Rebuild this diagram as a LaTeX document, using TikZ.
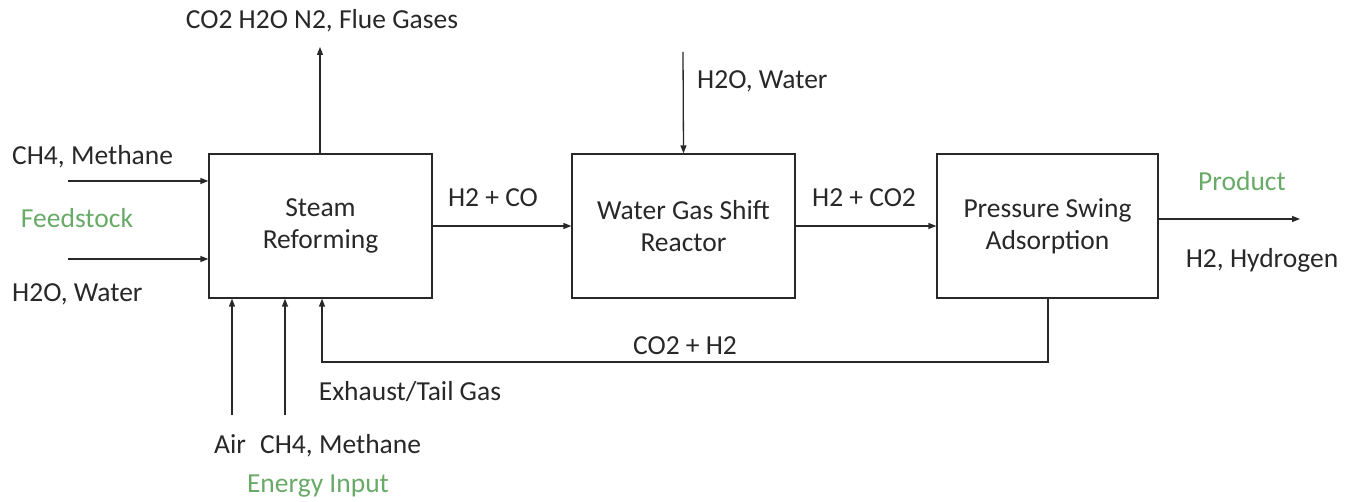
\documentclass[tikz,border=0pt]{standalone}
\usepackage{fontspec}
\setmainfont{Carlito}
\usetikzlibrary{arrows.meta}
\definecolor{gtext}{RGB}{104,170,104}
\definecolor{ink}{RGB}{40,40,40}
\begin{document}
\begin{tikzpicture}[x=1pt,y=-1pt,
  box/.style={draw=ink,line width=1.3pt,minimum width=223pt,minimum height=144pt,align=center,font=\fontsize{27.5}{32}\selectfont,text=ink,inner sep=0pt},
  lbl/.style={font=\fontsize{27.5}{32}\selectfont,text=ink,inner sep=0pt},
  glbl/.style={font=\fontsize{27.5}{32}\selectfont,text=gtext,inner sep=0pt},
  flow/.style={draw=ink,line width=1.3pt,-{Triangle[length=8pt,width=6pt]}}]
\useasboundingbox (0,0) rectangle (1356,502);
\node[box] (sr) at (320.5,226) {Steam\\Reforming};
\node[box] (wgs) at (683.5,226) {Water Gas Shift\\Reactor};
\node[box,minimum width=221pt] (psa) at (1047.5,226) {Pressure Swing\\Adsorption};
% inputs left
\coordinate (ch4s) at (68,181);
\coordinate (h2os) at (68,259);
\draw[flow] (ch4s) -- (ch4s -| sr.west);
\draw[flow] (h2os) -- (h2os -| sr.west);
\node[lbl,anchor=west] (ch4l) at (12,157) {CH4, Methane};
\node[glbl] (feed) at (77,218) {Feedstock};
\node[lbl,anchor=west] (h2ol) at (12,294) {H2O, Water};
% flue
\coordinate (flue) at (320,47);
\draw[flow] (sr.north -| flue) -- (flue);
\node[lbl] (fluel) at (322,21) {CO2 H2O N2, Flue Gases};
% main line
\draw[flow] (sr.east) -- (wgs.west);
\node[lbl] (h2co) at (493,198) {H2 + CO};
\draw[flow] (wgs.east) -- (psa.west);
\node[lbl] (h2co2) at (864,198) {H2 + CO2};
% water top
\coordinate (wtop) at (683,52);
\draw[flow] (wtop) -- (wgs.north);
\node[lbl,anchor=west] (wl) at (697,81) {H2O, Water};
% product
\coordinate (prod) at (1300,219);
\draw[flow] (prod -| psa.east) -- (prod);
\node[glbl] (prodl) at (1242,181) {Product};
\node[lbl] (h2l) at (1262,260) {H2, Hydrogen};
% recycle
\coordinate (rc) at (1048,362);
\coordinate (rin) at (322,362);
\draw[flow] (psa.south -| rc) -- (rc) -- (rin) -- (rin |- sr.south);
\node[lbl] (co2h2) at (685,346) {CO2 + H2};
\node[lbl] (exh) at (410,392) {Exhaust/Tail Gas};
% energy
\coordinate (air) at (232,415);
\coordinate (fuel) at (285,415);
\draw[flow] (air) -- (air |- sr.south);
\draw[flow] (fuel) -- (fuel |- sr.south);
\node[lbl,anchor=base west] (airl) at (214,453) {Air};
\node[lbl,anchor=base west] (fuell) at (260,453) {CH4, Methane};
\node[glbl] (enl) at (318,486) {Energy Input};
\end{tikzpicture}
\end{document}
